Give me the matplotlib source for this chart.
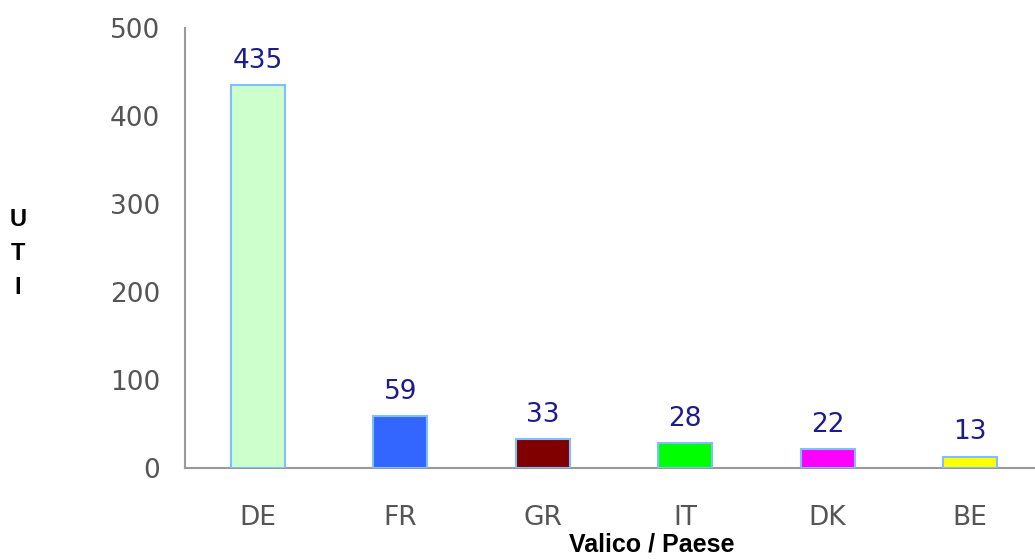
import matplotlib.pyplot as plt

# data
paesi = ["DE", "FR", "GR", "IT", "DK", "BE"]
valori = [435, 59, 33, 28, 22, 13]
colori = ["#ccffcc", "#3366ff", "#800000", "#00ff00", "#ff00ff", "#ffff00"]

fig = plt.figure(figsize=(10.35, 5.59), dpi=100)
ax = fig.add_axes([0.1787, 0.1628, 0.8213, 0.7872])

x = range(len(paesi))
bars = ax.bar(x, valori, width=0.38, color=colori, edgecolor="#7fbfff", linewidth=1.5, zorder=3)

for b, v in zip(bars, valori):
    ax.annotate(str(v), (b.get_x() + b.get_width() / 2, v), xytext=(0, 8),
                textcoords="offset points", ha="center", va="bottom",
                fontsize=19, color="#1c1c8c")

ax.set_xlim(-0.513, 5.456)
ax.set_ylim(0, 500)
ax.set_yticks([0, 100, 200, 300, 400, 500])
ax.set_xticks(list(x))
ax.set_xticklabels(paesi)
ax.tick_params(length=0, labelsize=19, labelcolor="#555555")
ax.tick_params(axis="y", pad=18)
ax.tick_params(axis="x", pad=27)

for s in ["top", "right"]:
    ax.spines[s].set_visible(False)
ax.spines["left"].set_color("#999999")
ax.spines["bottom"].set_color("#999999")
ax.spines["left"].set_linewidth(1.5)
ax.spines["bottom"].set_linewidth(1.5)

fig.text(0.0175, 0.547, "U\nT\nI", ha="center", va="center", fontsize=17,
         fontweight="bold", family="Liberation Sans", linespacing=1.6)
fig.text(0.63, 0.005, "Valico / Paese", ha="center", va="bottom", fontsize=18,
         fontweight="bold", family="Liberation Sans")

fig.savefig("out.png", dpi=100)
